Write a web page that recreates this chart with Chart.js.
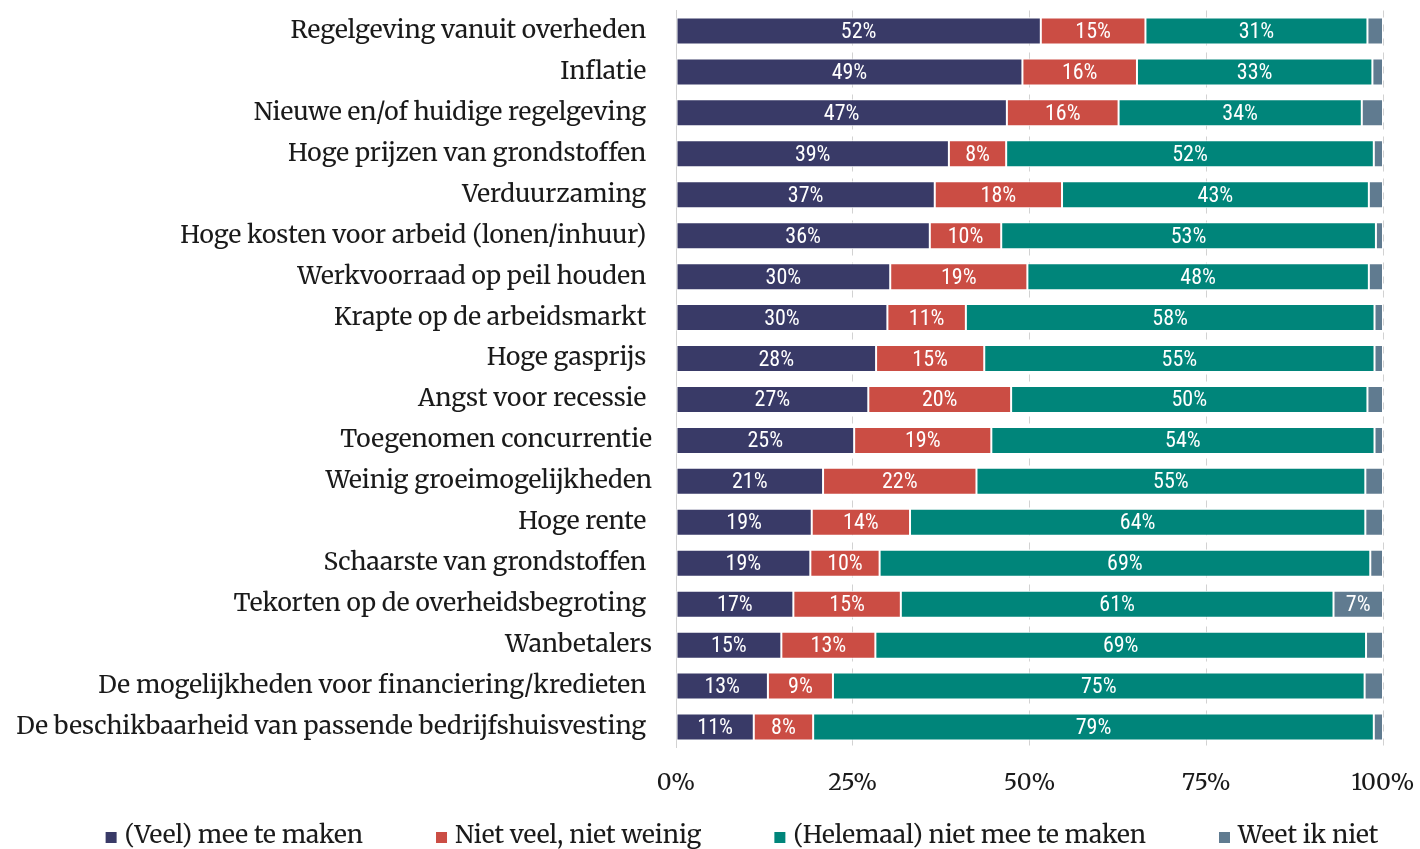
<!DOCTYPE html>
<html><head><meta charset="utf-8">
<script src="https://cdn.jsdelivr.net/npm/chart.js@4/dist/chart.umd.min.js"></script>
<style>
html,body{margin:0;padding:0;overflow:hidden;background:#fff;width:1420px;height:849px}
#wrap{position:absolute;left:0;top:0;width:1420px;height:849px}
</style>
</head><body><div id="wrap"><canvas id="c"></canvas></div>
<script>
const categories = [
  "Regelgeving vanuit overheden ",
  "Inflatie ",
  "Nieuwe en/of huidige regelgeving ",
  "Hoge prijzen van grondstoffen ",
  "Verduurzaming ",
  "Hoge kosten voor arbeid (lonen/inhuur) ",
  "Werkvoorraad op peil houden ",
  "Krapte op de arbeidsmarkt ",
  "Hoge gasprijs ",
  "Angst voor recessie ",
  "Toegenomen concurrentie",
  "Weinig groeimogelijkheden",
  "Hoge rente ",
  "Schaarste van grondstoffen ",
  "Tekorten op de overheidsbegroting ",
  "Wanbetalers",
  "De mogelijkheden voor financiering/kredieten ",
  "De beschikbaarheid van passende bedrijfshuisvesting "
];
const seriesNames = ["(Veel) mee te maken", "Niet veel, niet weinig", "(Helemaal) niet mee te maken", "Weet ik niet"];
const veelMee   = [51.6, 49.0, 46.8, 38.6, 36.6, 35.9, 30.3, 29.9, 28.3, 27.2, 25.2, 20.8, 19.2, 19.0, 16.6, 14.9, 13.0, 11.0];
const neutraal  = [14.8, 16.2, 15.8,  8.1, 18.0, 10.1, 19.4, 11.1, 15.3, 20.2, 19.4, 21.7, 13.9,  9.8, 15.2, 13.3,  9.2,  8.4];
const nietMee   = [31.4, 33.3, 34.4, 52.0, 43.4, 53.0, 48.3, 57.8, 55.2, 50.4, 54.2, 55.0, 64.4, 69.4, 61.2, 69.4, 75.2, 79.3];
const weetNiet  = [ 2.2,  1.5,  3.0,  1.3,  2.0,  1.0,  2.0,  1.2,  1.2,  2.2,  1.2,  2.5,  2.5,  1.8,  7.0,  2.4,  2.6,  1.3];
const xTicks = [0, 25, 50, 75, 100];
const colors = ["#393a67", "#cb4d44", "#00857a", "#607b90"];

const serif = '"Merriweather", "DejaVu Serif", "Liberation Serif", serif';
const condensed = '"Roboto Condensed", "Liberation Sans Narrow", "Arial Narrow", Roboto, sans-serif';

const segLabels = {
  id: 'segLabels',
  afterDatasetsDraw(chart) {
    const ctx = chart.ctx;
    ctx.save();
    ctx.font = '22px ' + condensed;
    ctx.fillStyle = '#ffffff';
    ctx.textAlign = 'center';
    ctx.textBaseline = 'middle';
    chart.data.datasets.forEach((ds, di) => {
      const meta = chart.getDatasetMeta(di);
      meta.data.forEach((bar, i) => {
        const v = ds.data[i];
        if (v < 5) return;
        ctx.fillText(Math.round(v) + '%', (bar.x + bar.base) / 2, bar.y + 1.5);
      });
    });
    ctx.restore();
  }
};

// Legend drawn as one centred row below the axis
const LEGEND = { centerX: 742, baseline: 843, box: 11, textGap: 8, itemGap: 73, font: '24.5px ' + serif, color: '#1a1a1a' };
const rowLegend = {
  id: 'rowLegend',
  afterDraw(chart) {
    const ctx = chart.ctx;
    ctx.save();
    ctx.font = LEGEND.font;
    const items = chart.data.datasets.map(ds => ({ text: ds.label, color: ds.backgroundColor, w: ctx.measureText(ds.label).width }));
    const total = items.reduce((s, it) => s + LEGEND.box + LEGEND.textGap + it.w, 0) + LEGEND.itemGap * (items.length - 1);
    let x = LEGEND.centerX - total / 2;
    ctx.textBaseline = 'alphabetic';
    ctx.textAlign = 'left';
    items.forEach(it => {
      ctx.fillStyle = it.color;
      ctx.fillRect(x, LEGEND.baseline - LEGEND.box, LEGEND.box, LEGEND.box);
      x += LEGEND.box + LEGEND.textGap;
      ctx.fillStyle = LEGEND.color;
      ctx.fillText(it.text, x, LEGEND.baseline);
      x += it.w + LEGEND.itemGap;
    });
    ctx.restore();
  }
};

new Chart(document.getElementById('c'), {
  type: 'bar',
  data: {
    labels: categories,
    datasets: [veelMee, neutraal, nietMee, weetNiet].map((d, i) => ({
      label: seriesNames[i],
      data: d,
      backgroundColor: colors[i],
      borderColor: '#ffffff',
      borderWidth: 1,
      borderSkipped: false,
      barPercentage: 0.66,
      categoryPercentage: 1.0
    }))
  },
  options: {
    indexAxis: 'y',
    responsive: true,
    maintainAspectRatio: false,
    animation: false,
    layout: { padding: { top: 10.5, left: 17, right: 0, bottom: 35.5 } },
    scales: {
      x: {
        stacked: true,
        min: 0, max: 100,
        afterBuildTicks(axis) { axis.ticks = xTicks.map(v => ({ value: v })); },
        afterFit(scale) { scale.paddingLeft = 0; scale.paddingRight = 37; scale.height = 66; },
        ticks: {
          callback: v => v + '%',
          font: { family: serif, size: 23 },
          color: '#1a1a1a',
          padding: 22,
          maxRotation: 0
        },
        grid: { color: '#d2d2d2', lineWidth: 1, drawTicks: false },
        border: { display: false, dash: [7, 7] }
      },
      y: {
        stacked: true,
        afterFit(scale) { scale.paddingTop = 0; scale.paddingBottom = 0; scale.width = 659; },
        ticks: {
          font: { family: serif, size: 24.5 },
          color: '#1a1a1a',
          padding: 24,
          autoSkip: false
        },
        grid: { display: false, drawTicks: false },
        border: { display: true, color: '#d2d2d2', width: 1 }
      }
    },
    plugins: {
      legend: { display: false },
      tooltip: { enabled: false }
    }
  },
  plugins: [segLabels, rowLegend]
});
</script>
</body></html>
